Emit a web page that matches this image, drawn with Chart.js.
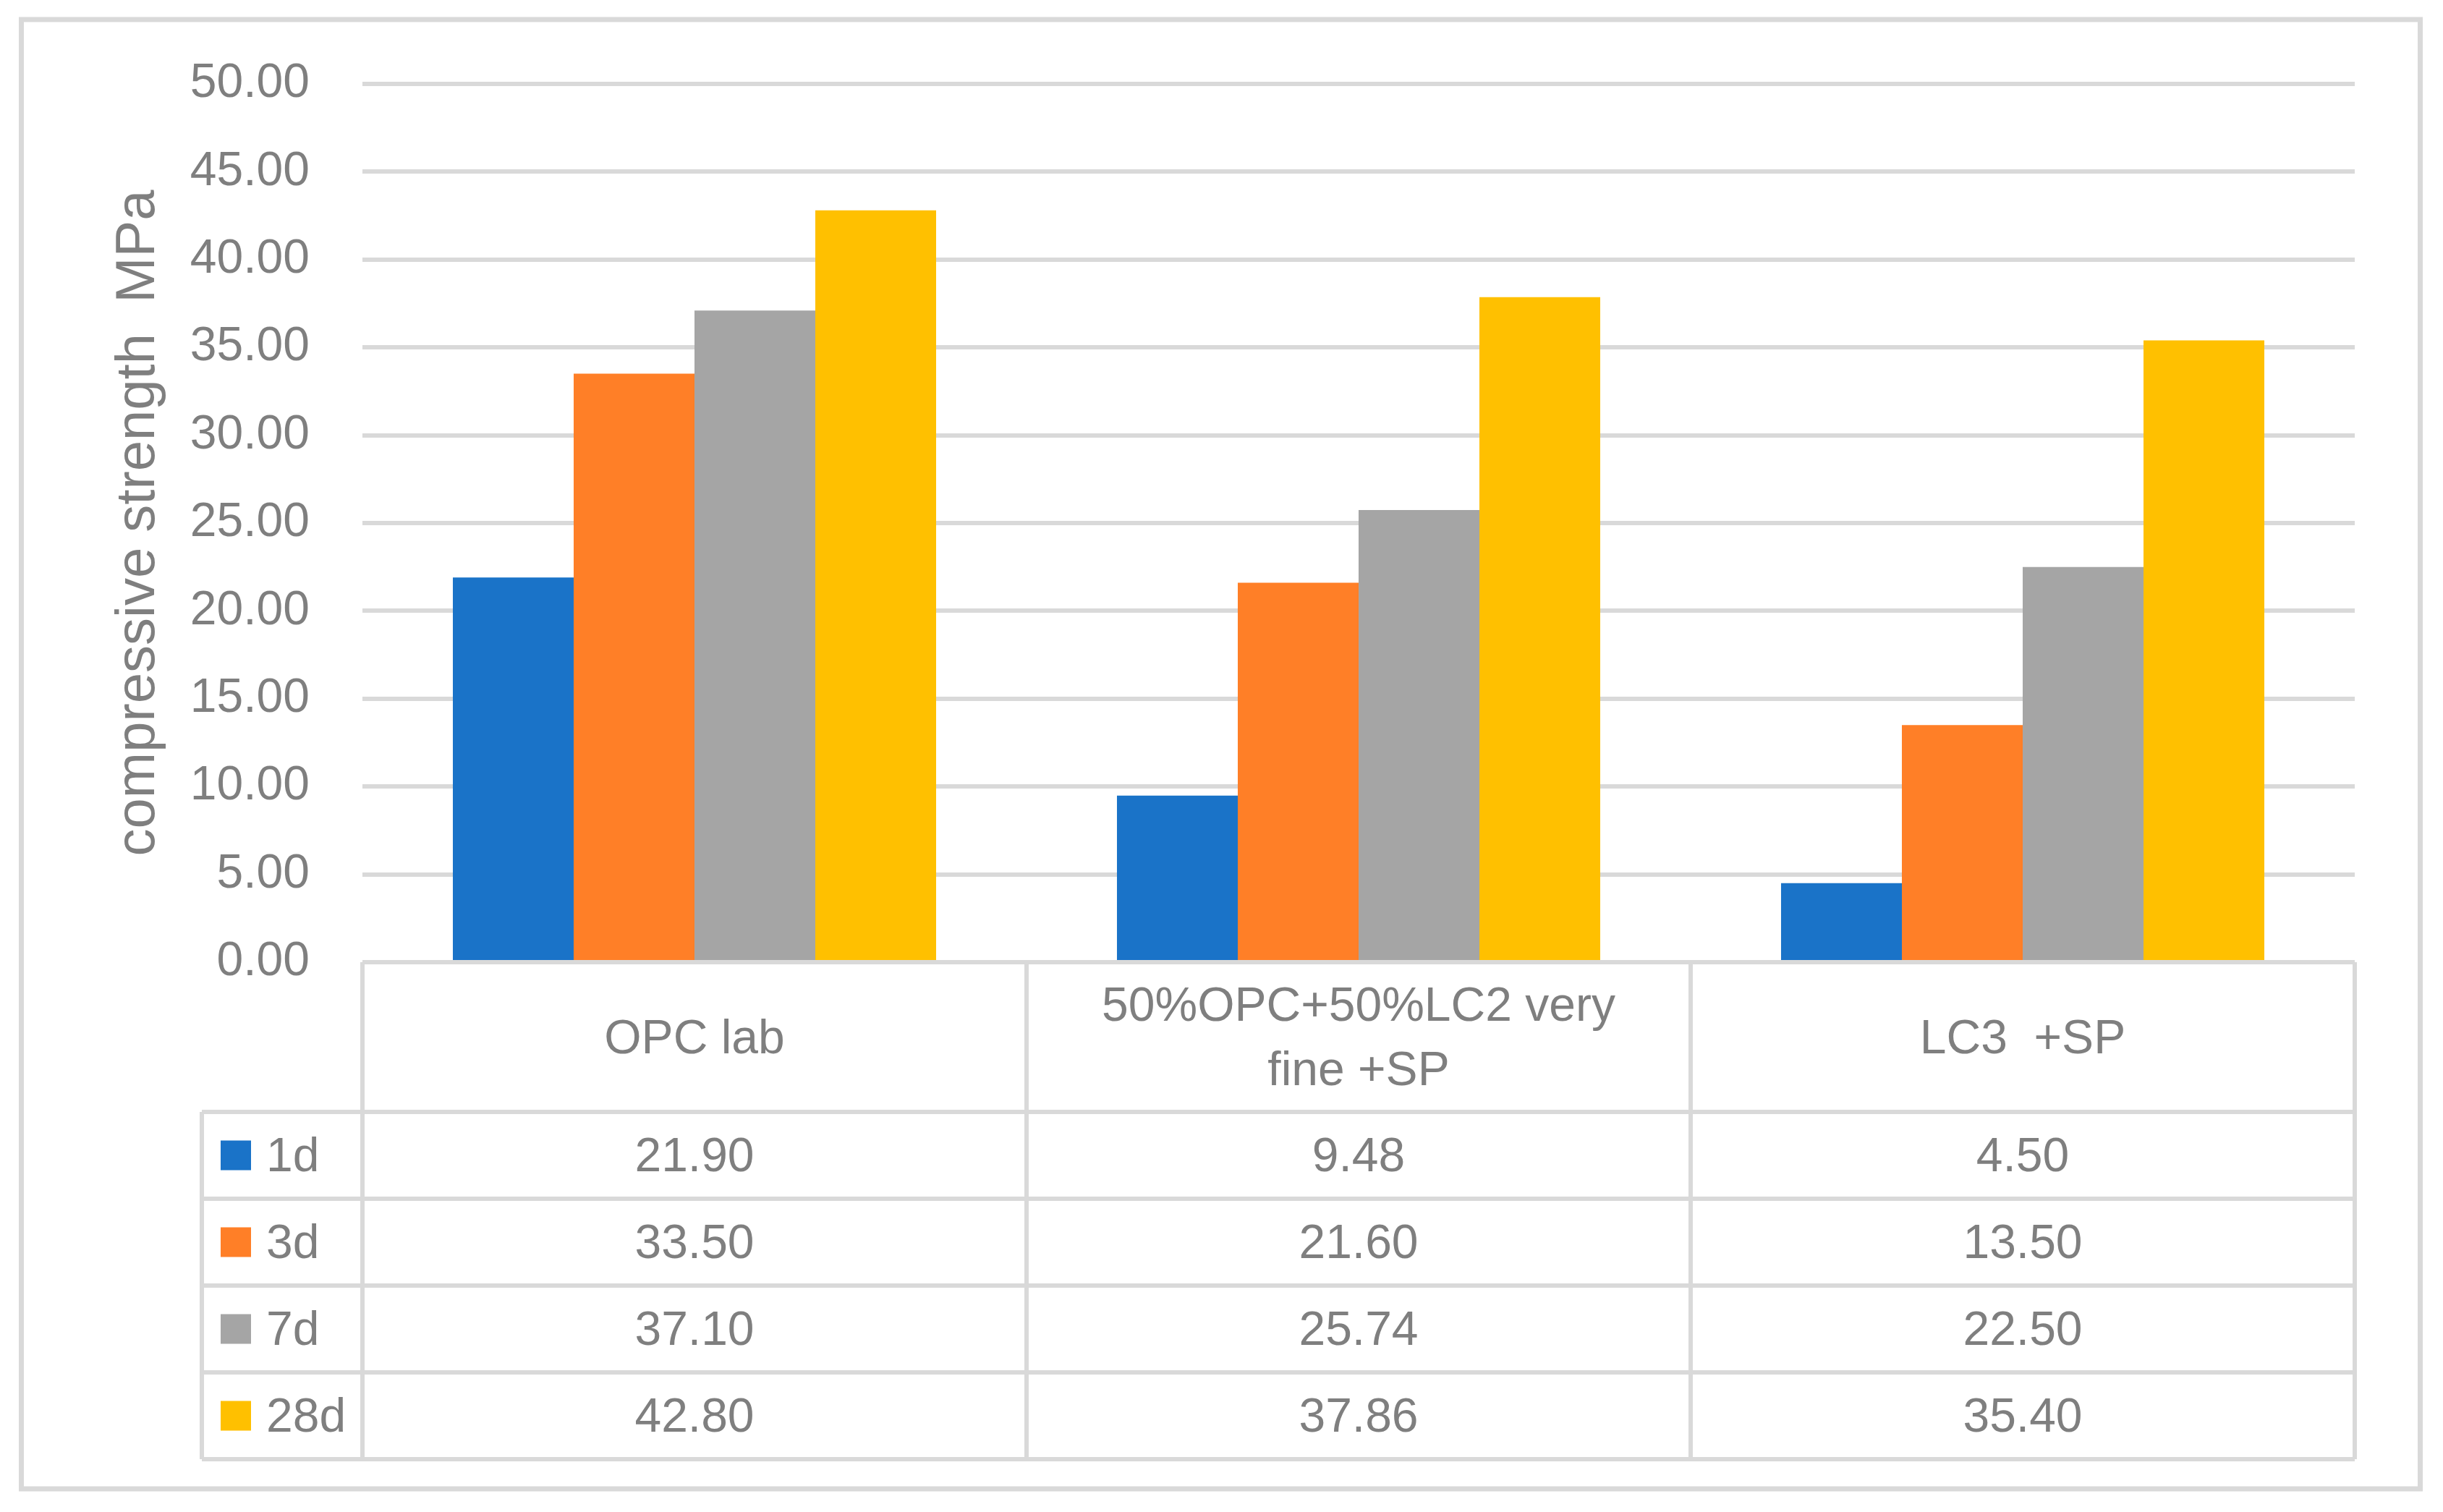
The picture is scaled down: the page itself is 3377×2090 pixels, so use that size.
<!DOCTYPE html>
<html><head><meta charset="utf-8">
<script src="https://cdn.jsdelivr.net/npm/chart.js@4/dist/chart.umd.min.js"></script>
<style>html,body{margin:0;padding:0;background:#fff;overflow:hidden}</style>
</head><body>
<canvas id="c" width="3377" height="2090"></canvas>
<script>
// ---- data ----
const categories = [["OPC lab"], ["50%OPC+50%LC2 very", "fine +SP"], ["LC3  +SP"]];
const seriesNames = ["1d", "3d", "7d", "28d"];
const s1d  = [21.90, 9.48, 4.50];
const s3d  = [33.50, 21.60, 13.50];
const s7d  = [37.10, 25.74, 22.50];
const s28d = [42.80, 37.86, 35.40];
const seriesColors = ["#1A73C8", "#FF7F27", "#A5A5A5", "#FFC000"];
const yMin = 0, yMax = 50, yStep = 5;
const yTitle = "compressive strength  MPa";

const seriesValues = [s1d, s3d, s7d, s28d];
const TEXT = "#7F7F7F", LINE = "#D9D9D9";
const FONT = '"Liberation Sans", Arial, sans-serif';

const tablePlugin = {
  id: 'dataTable',
  beforeDraw(chart) {
    const ctx = chart.ctx;
    ctx.save();
    ctx.fillStyle = '#fff';
    ctx.fillRect(0, 0, chart.width, chart.height);
    ctx.restore();
  },
  afterDraw(chart) {
    const { ctx, chartArea: ca, scales: { x, y } } = chart;
    const y0 = y.getPixelForValue(0);
    const n = categories.length;
    const colW = (ca.right - ca.left) / n;
    const edges = [];
    for (let i = 0; i < n; i++) edges.push(x.getPixelForValue(i) - colW / 2);
    edges.push(x.getPixelForValue(n - 1) + colW / 2);
    const headerH = 207, rowH = 120, legendLeft = 279, textDy = 4;
    const tableTop = y0, rowsTop = y0 + headerH;
    const tableBottom = rowsTop + rowH * seriesNames.length;

    ctx.save();
    ctx.strokeStyle = LINE;
    ctx.lineWidth = 6;
    ctx.beginPath();
    ctx.moveTo(edges[0], tableTop); ctx.lineTo(edges[n], tableTop);
    for (let r = 0; r <= seriesNames.length; r++) {
      const yy = rowsTop + r * rowH;
      ctx.moveTo(legendLeft, yy); ctx.lineTo(edges[n], yy);
    }
    for (let i = 0; i <= n; i++) {
      ctx.moveTo(edges[i], tableTop); ctx.lineTo(edges[i], tableBottom);
    }
    ctx.moveTo(legendLeft, rowsTop); ctx.lineTo(legendLeft, tableBottom);
    ctx.stroke();

    // outer chart border
    ctx.lineWidth = 7;
    ctx.strokeRect(29.5, 27, 3316, 2031);

    // header labels
    ctx.fillStyle = TEXT;
    ctx.font = '66px ' + FONT;
    ctx.textAlign = 'center';
    ctx.textBaseline = 'middle';
    const lh = 89;
    for (let i = 0; i < n; i++) {
      const cx = (edges[i] + edges[i + 1]) / 2;
      const lines = categories[i];
      const cy = tableTop + headerH / 2 + textDy;
      lines.forEach((t, k) => {
        ctx.fillText(t, cx, cy + (k - (lines.length - 1) / 2) * lh);
      });
    }
    // rows
    seriesNames.forEach((name, r) => {
      const cy = rowsTop + r * rowH + rowH / 2;
      ctx.fillStyle = seriesColors[r];
      ctx.fillRect(305, cy - 20.5, 42, 41);
      ctx.fillStyle = TEXT;
      ctx.textAlign = 'left';
      ctx.fillText(name, 368, cy + textDy);
      ctx.textAlign = 'center';
      seriesValues[r].forEach((v, i) => {
        ctx.fillText(v.toFixed(2), (edges[i] + edges[i + 1]) / 2, cy + textDy);
      });
    });
    ctx.restore();
  }
};

new Chart(document.getElementById('c'), {
  type: 'bar',
  data: {
    labels: categories,
    datasets: seriesNames.map((name, i) => ({
      label: name,
      data: seriesValues[i],
      backgroundColor: seriesColors[i],
      borderWidth: 0,
      categoryPercentage: 0.7277,
      barPercentage: 1.0
    }))
  },
  options: {
    responsive: false,
    animation: false,
    devicePixelRatio: 1,
    layout: { padding: { top: 116, bottom: 760, left: 0, right: 122 } },
    plugins: { legend: { display: false }, tooltip: { enabled: false } },
    scales: {
      x: { display: false },
      y: {
        min: yMin, max: yMax,
        border: { display: false },
        grid: { color: LINE, lineWidth: 6, drawTicks: false },
        ticks: {
          stepSize: yStep,
          padding: 73,
          color: TEXT,
          font: { family: FONT, size: 66 },
          callback: v => Number(v).toFixed(2)
        },
        title: {
          display: true,
          text: yTitle,
          color: TEXT,
          font: { family: FONT, size: 76 },
          padding: { top: 146, bottom: 0 }
        },
        afterFit(scale) { scale.width = 501; }
      }
    }
  },
  plugins: [tablePlugin]
});
</script>
</body></html>
